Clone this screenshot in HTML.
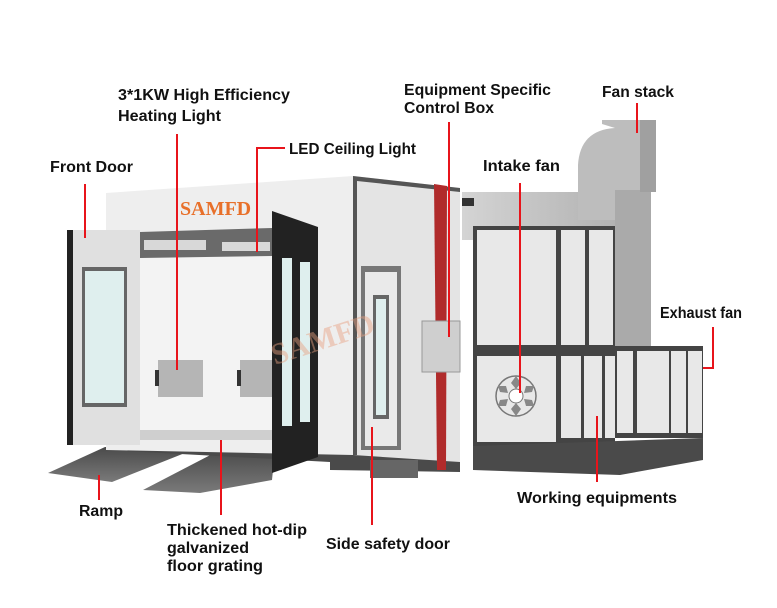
<!DOCTYPE html>
<html><head><meta charset="utf-8"><style>
html,body{margin:0;padding:0;background:#fff;}
svg{display:block}
text{font-family:"Liberation Sans",sans-serif;font-weight:bold;font-size:15.5px;fill:#111;}
</style></head><body>
<svg width="777" height="608" viewBox="0 0 777 608" xmlns="http://www.w3.org/2000/svg">
<defs>
<linearGradient id="duct" x1="0" y1="0" x2="1" y2="0"><stop offset="0" stop-color="#d4d4d4"/><stop offset="1" stop-color="#b0b0b0"/></linearGradient>
<linearGradient id="ramp" x1="0" y1="0" x2="0" y2="1"><stop offset="0" stop-color="#4a4a4a"/><stop offset="1" stop-color="#7a7a7a"/></linearGradient>
</defs>
<!-- ramps -->
<polygon points="48,473 105,447 200,447 112,482" fill="url(#ramp)"/>
<polygon points="143,490 220,450 275,450 272,480 200,493" fill="url(#ramp)"/>
<!-- base under booth -->
<polygon points="106,440 460,440 460,472 330,470 330,462 106,450" fill="#4a4a4a"/>
<rect x="370" y="460" width="48" height="18" fill="#666"/>
<!-- duct top -->
<path d="M462,192 L585,192 Q618,198 625,232 L625,240 L462,240 Z" fill="url(#duct)"/>
<rect x="462" y="198" width="12" height="8" fill="#333"/>
<!-- fan stack -->
<path d="M578,220 L578,165 Q580,130 615,128 L602,124 L602,120 L655,120 L655,190 L650,190 L650,348 L615,348 L615,220 Z" fill="#bdbdbd"/>
<rect x="615" y="190" width="36" height="158" fill="#aaaaaa"/>
<rect x="640" y="120" width="16" height="72" fill="#a0a0a0"/>
<!-- booth side wall -->
<polygon points="353,176 460,188 460,462 353,455" fill="#e4e4e4"/>
<polygon points="353,176 460,188 460,192 357,181 357,455 353,455" fill="#555"/>
<!-- front wall -->
<polygon points="106,193 353,176 353,455 106,450" fill="#eeeeee"/>
<!-- interior -->
<rect x="140" y="232" width="132" height="205" fill="#f3f3f3"/>
<polygon points="140,232 272,228 272,256 140,258" fill="#6a6a6a"/>
<rect x="144" y="240" width="62" height="10" fill="#d8d8d8"/>
<rect x="222" y="242" width="48" height="9" fill="#d8d8d8"/>
<rect x="140" y="430" width="132" height="10" fill="#cfcfcf"/>
<rect x="158" y="360" width="45" height="37" fill="#b5b5b5"/>
<rect x="155" y="370" width="4" height="16" fill="#333"/>
<rect x="240" y="360" width="32" height="37" fill="#b5b5b5"/>
<rect x="237" y="370" width="4" height="16" fill="#333"/>
<!-- left door -->
<rect x="67" y="230" width="73" height="215" fill="#e0e0e0"/>
<rect x="67" y="230" width="6" height="215" fill="#222"/>
<rect x="82" y="267" width="45" height="140" fill="#666"/>
<rect x="85" y="271" width="39" height="132" fill="#dfefee"/>
<!-- right door -->
<polygon points="272,211 318,227 318,457 272,473" fill="#222"/>
<rect x="282" y="258" width="10" height="168" fill="#dfefee"/>
<rect x="300" y="262" width="10" height="160" fill="#dfefee"/>
<!-- side door -->
<rect x="361" y="266" width="40" height="184" fill="#777"/>
<rect x="365" y="272" width="32" height="174" fill="#eaeaea"/>
<rect x="373" y="295" width="16" height="124" fill="#666"/>
<rect x="376" y="299" width="10" height="116" fill="#dfefee"/>
<!-- red strip -->
<polygon points="434,184 447,186 446,470 437,470" fill="#b02b2b"/>
<rect x="422" y="321" width="38" height="51" fill="#cfcfcf" stroke="#999"/>
<!-- intake unit -->
<rect x="473" y="226" width="142" height="220" fill="#444"/>
<rect x="477" y="230" width="79" height="115" fill="#e8e8e8"/>
<rect x="561" y="230" width="24" height="115" fill="#e8e8e8"/>
<rect x="589" y="230" width="24" height="115" fill="#e8e8e8"/>
<rect x="477" y="356" width="79" height="86" fill="#e8e8e8"/>
<circle cx="516" cy="396" r="20" fill="none" stroke="#777" stroke-width="1.5"/>
<circle cx="516" cy="396" r="7" fill="#fff" stroke="#777"/>
<g fill="#888"><polygon points="516,376 521,383 516,389 511,383"/><polygon points="516,403 521,409 516,416 511,409"/><polygon points="498,386 506,386 508,393 500,392"/><polygon points="534,386 526,386 524,393 532,392"/><polygon points="498,406 506,406 508,399 500,400"/><polygon points="534,406 526,406 524,399 532,400"/></g>
<rect x="556" y="346" width="147" height="92" fill="#444"/>
<rect x="561" y="356" width="20" height="82" fill="#e8e8e8"/>
<rect x="584" y="356" width="18" height="82" fill="#e8e8e8"/>
<rect x="605" y="356" width="10" height="82" fill="#e8e8e8"/>
<rect x="617" y="351" width="16" height="82" fill="#e8e8e8"/>
<rect x="637" y="351" width="32" height="82" fill="#e8e8e8"/>
<rect x="671" y="351" width="15" height="82" fill="#e8e8e8"/>
<rect x="688" y="351" width="14" height="82" fill="#e8e8e8"/>
<polygon points="473,446 703,438 703,460 620,475 473,470" fill="#4a4a4a"/>
<!-- logos -->
<text x="180" y="215" style="font-family:'Liberation Serif',serif;font-size:20px;fill:#e8702a">SAMFD</text>
<text x="275" y="365" transform="rotate(-18 275 365)" style="font-family:'Liberation Serif',serif;font-size:30px;fill:#e8a080;opacity:.45">SAMFD</text>
<!-- leader lines -->
<g stroke="#e8141b" stroke-width="2" fill="none">
<line x1="177" y1="134" x2="177" y2="370"/>
<polyline points="285,148 257,148 257,252"/>
<line x1="85" y1="184" x2="85" y2="238"/>
<line x1="449" y1="122" x2="449" y2="337"/>
<line x1="637" y1="103" x2="637" y2="133"/>
<line x1="520" y1="183" x2="520" y2="393"/>
<polyline points="713,327 713,368 703,368"/>
<line x1="99" y1="475" x2="99" y2="500"/>
<line x1="221" y1="440" x2="221" y2="515"/>
<line x1="372" y1="427" x2="372" y2="525"/>
<line x1="597" y1="416" x2="597" y2="482"/>
</g>
<text x="118" y="100" textLength="172" lengthAdjust="spacingAndGlyphs">3*1KW High Efficiency</text>
<text x="118" y="121" textLength="103" lengthAdjust="spacingAndGlyphs">Heating Light</text>
<text x="289" y="154" textLength="127" lengthAdjust="spacingAndGlyphs">LED Ceiling Light</text>
<text x="50" y="172" textLength="83" lengthAdjust="spacingAndGlyphs">Front Door</text>
<text x="404" y="95" textLength="147" lengthAdjust="spacingAndGlyphs">Equipment Specific</text>
<text x="404" y="113" textLength="90" lengthAdjust="spacingAndGlyphs">Control Box</text>
<text x="602" y="97" textLength="72" lengthAdjust="spacingAndGlyphs">Fan stack</text>
<text x="483" y="171" textLength="77" lengthAdjust="spacingAndGlyphs">Intake fan</text>
<text x="660" y="318" textLength="82" lengthAdjust="spacingAndGlyphs">Exhaust fan</text>
<text x="79" y="516" textLength="44" lengthAdjust="spacingAndGlyphs">Ramp</text>
<text x="167" y="535" textLength="140" lengthAdjust="spacingAndGlyphs">Thickened hot-dip</text>
<text x="167" y="553" textLength="82" lengthAdjust="spacingAndGlyphs">galvanized</text>
<text x="167" y="571" textLength="96" lengthAdjust="spacingAndGlyphs">floor grating</text>
<text x="326" y="549" textLength="124" lengthAdjust="spacingAndGlyphs">Side safety door</text>
<text x="517" y="503" textLength="160" lengthAdjust="spacingAndGlyphs">Working equipments</text>
</svg>
</body></html>
